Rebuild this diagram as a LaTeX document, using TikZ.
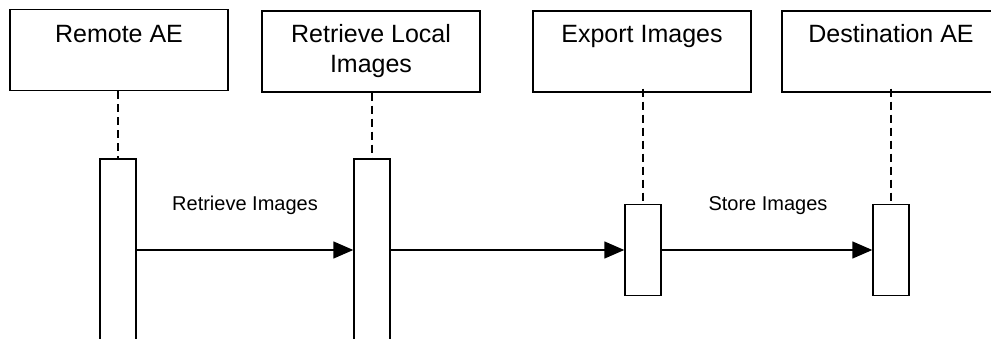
\documentclass[tikz,border=0pt]{standalone}
\usepackage{fontspec}
\setmainfont{Liberation Sans}
\usetikzlibrary{arrows.meta}
\begin{document}
\begin{tikzpicture}[x=1pt,y=-1pt,
  actor/.style={draw,line width=1.4pt,minimum width=218pt,minimum height=81pt,inner sep=0pt},
  title/.style={font=\fontsize{25}{30}\selectfont,anchor=base,align=center,inner sep=0pt},
  act/.style={draw,fill=white,line width=1.4pt,minimum width=36pt,inner sep=0pt},
  life/.style={line width=1.4pt,dash pattern=on 8pt off 5pt},
  msg/.style={line width=1.4pt,-{Triangle[length=20pt,width=17pt]}},
  lbl/.style={font=\fontsize{20}{24}\selectfont,anchor=base,inner sep=0pt}]
\useasboundingbox (0,0) rectangle (991,339);
\fill[white] (0,0) rectangle (991,339);
% actor boxes
\node[actor] (a1) at (119,50) {};
\node[actor] (a2) at (371,51.5) {};
\node[actor] (a3) at (642,51.5) {};
\node[actor] (a4) at (891,51.5) {};
\node[title] (t1) at (119,43) {Remote AE};
\node[title] (t2) at (371,73) {Retrieve Local\\Images};
\node[title] (t3) at (642,43) {Export Images};
\node[title] (t4) at (891,43) {Destination AE};
% activation boxes
\node[act,minimum height=190pt] (b1) at (118,254) {};
\node[act,minimum height=190pt] (b2) at (372,254) {};
\node[act,minimum height=91pt] (b3) at (643,250) {};
\node[act,minimum height=91pt] (b4) at (891,250) {};
% lifelines
\draw[life] (a1.south -| b1.north) -- (b1.north);
\draw[life] (a2.south -| b2.north) -- (b2.north);
\coordinate (l3) at ([yshift=4pt]a3.south -| b3.north);
\coordinate (l4) at ([yshift=4pt]a4.south -| b4.north);
\draw[life] (l3) -- (b3.north);
\draw[life] (l4) -- (b4.north);
% messages
\coordinate (m1s) at (b1.east |- b3.west);
\coordinate (m1e) at (b2.west |- b3.west);
\coordinate (m2s) at (b2.east |- b3.west);
\draw[msg] (m1s) -- (m1e);
\draw[msg] (m2s) -- (b3.west);
\draw[msg] (b3.east) -- (b4.west);
\node[lbl] (l1) at (245,211) {Retrieve Images};
\node[lbl] (l2) at (768,211) {Store Images};
\end{tikzpicture}
\end{document}
